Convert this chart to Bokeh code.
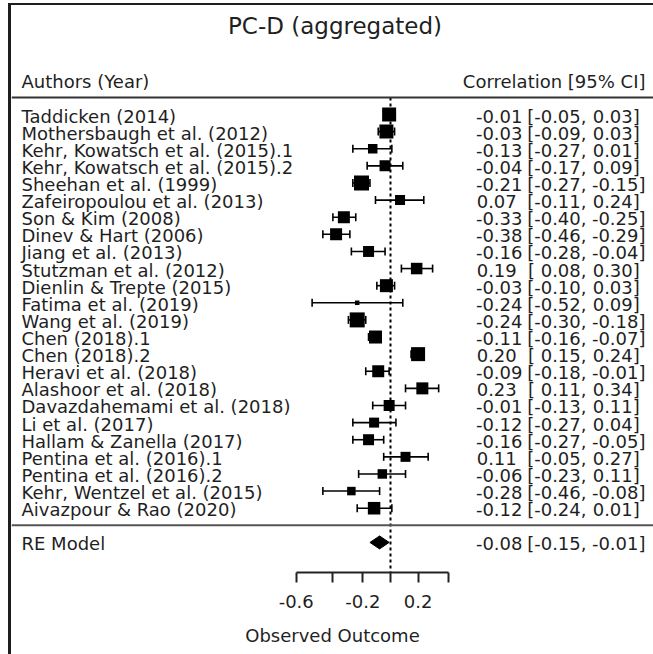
import numpy as np
from bokeh.plotting import figure
from bokeh.models import (Range1d, LinearAxis, FixedTicker, CustomJSTickFormatter,
                          Whisker, TeeHead, ColumnDataSource, Span)
from bokeh.core.properties import value
from bokeh.embed import file_html
from bokeh.resources import INLINE

# ---------------- data ----------------
plot_title = "PC-D (aggregated)"
left_header = "Authors (Year)"
right_header = "Correlation [95% CI]"
studies = [
    "Taddicken (2014)", "Mothersbaugh et al. (2012)", "Kehr, Kowatsch et al. (2015).1",
    "Kehr, Kowatsch et al. (2015).2", "Sheehan et al. (1999)", "Zafeiropoulou et al. (2013)",
    "Son & Kim (2008)", "Dinev & Hart (2006)", "Jiang et al. (2013)", "Stutzman et al. (2012)",
    "Dienlin & Trepte (2015)", "Fatima et al. (2019)", "Wang et al. (2019)", "Chen (2018).1",
    "Chen (2018).2", "Heravi et al. (2018)", "Alashoor et al. (2018)",
    "Davazdahemami et al. (2018)", "Li et al. (2017)", "Hallam & Zanella (2017)",
    "Pentina et al. (2016).1", "Pentina et al. (2016).2", "Kehr, Wentzel et al. (2015)",
    "Aivazpour & Rao (2020)",
]
estimates = [-0.01, -0.03, -0.13, -0.04, -0.21, 0.07, -0.33, -0.38, -0.16, 0.19, -0.03, -0.24,
             -0.24, -0.11, 0.20, -0.09, 0.23, -0.01, -0.12, -0.16, 0.11, -0.06, -0.28, -0.12]
ci_lower = [-0.05, -0.09, -0.27, -0.17, -0.27, -0.11, -0.40, -0.46, -0.28, 0.08, -0.10, -0.52,
            -0.30, -0.16, 0.15, -0.18, 0.11, -0.13, -0.27, -0.27, -0.05, -0.23, -0.46, -0.24]
ci_upper = [0.03, 0.03, 0.01, 0.09, -0.15, 0.24, -0.25, -0.29, -0.04, 0.30, 0.03, 0.09,
            -0.18, -0.07, 0.24, -0.01, 0.34, 0.11, 0.04, -0.05, 0.27, 0.11, -0.08, 0.01]
weights = [4.4, 4.4, 2.6, 3.2, 4.8, 2.8, 3.6, 3.6, 3.2, 3.4, 4.0, 0.6,
           4.8, 4.0, 4.4, 3.6, 3.6, 3.2, 2.8, 3.2, 2.8, 2.6, 2.2, 3.8]
re_label = "RE Model"
re_estimate, re_lower, re_upper = -0.08, -0.15, -0.01
tick_values = [-0.6, -0.4, -0.2, 0.0, 0.2, 0.4]
tick_labels_shown = ["-0.6", "-0.2", "0.2"]
x_label = "Observed Outcome"

# ---------------- layout ----------------
FONT = "DejaVu Sans"
FS = "18px"
TXT = "#1f1f1f"
PAGE_W, PAGE_H = 653, 654
MARGIN_L, MARGIN_T = 11, 5
AXIS_PANEL = 82
ZERO_PX, PX_PER_Z = 390.0, 136.0
ROW_TOP_PX, ROW_PX = 114.0, 17.117
EST_RIGHT, LO_RIGHT, HI_RIGHT = 522, 586, 645
K = len(studies)


def zx(px):
    return (px - ZERO_PX) / PX_PER_Z


def ry(py):
    return K + (ROW_TOP_PX - py) / ROW_PX


rows = np.arange(K, 0, -1).astype(float)
w = np.array(weights)
sizes = 3.0 + 2.5 * w
text_rows = rows - 1.5 / ROW_PX

src = ColumnDataSource(dict(
    row=rows,
    trow=text_rows,
    est=np.arctanh(estimates),
    lo=np.arctanh(ci_lower),
    hi=np.arctanh(ci_upper),
    size=sizes,
    name=studies,
    est_txt=[f"{v:5.2f}" for v in estimates],
    lo_txt=[f"[{v:5.2f}," for v in ci_lower],
    hi_txt=[f"{v:5.2f}]" for v in ci_upper],
))

p = figure(width=PAGE_W - MARGIN_L, height=PAGE_H - MARGIN_T,
           x_range=Range1d(zx(MARGIN_L), zx(PAGE_W)),
           y_range=Range1d(ry(PAGE_H - AXIS_PANEL), ry(MARGIN_T)),
           x_axis_type=None, y_axis_type=None, toolbar_location=None,
           output_backend="svg", min_border_left=0, min_border_right=0,
           min_border_top=0, min_border_bottom=AXIS_PANEL,
           margin=(MARGIN_T, 0, 0, MARGIN_L))
p.outline_line_color = None
p.background_fill_color = "white"
p.border_fill_color = "white"
p.styles = {"box-shadow": "-3px 0 0 0 #1e1e1e, 0 -2px 0 0 #1e1e1e, -3px -2px 0 0 #1e1e1e"}

# separator lines
p.add_layout(Span(location=K + 1, dimension="width", line_color="#333333", line_width=2))
p.add_layout(Span(location=0, dimension="width", line_color="#555555", line_width=2))

# reference line at 0
p.segment(x0=[0.0], y0=[K + 1], x1=[0.0], y1=[p.y_range.start],
          line_color="black", line_width=2, line_dash="3 3")

# confidence intervals
whisk = Whisker(source=src, base="row", lower="lo", upper="hi", dimension="width",
                line_color="black", line_width=1.6,
                upper_head=TeeHead(size=8, line_color="black", line_width=1.6),
                lower_head=TeeHead(size=8, line_color="black", line_width=1.6))
p.add_layout(whisk)

# study squares
p.scatter("est", "row", size="size", marker="square", fill_color="black",
          line_color=None, source=src)

# RE model diamond
half_h = 6.5 / ROW_PX
re_y = -1.0
zlo, zest, zhi = np.arctanh([re_lower, re_estimate, re_upper])
p.patch(x=[zlo, zest, zhi, zest], y=[re_y, re_y + half_h, re_y, re_y - half_h],
        fill_color="black", line_color="black", line_width=1)

# texts
common = dict(text_font=value(FONT), text_font_size=FS, text_color=TXT,
              text_baseline="middle")
p.text(x=zx(21), y="trow", text="name", text_align="left", source=src, **common)
p.text(x=zx(EST_RIGHT), y="trow", text="est_txt", text_align="right", source=src, **common)
p.text(x=zx(LO_RIGHT), y="trow", text="lo_txt", text_align="right", source=src, **common)
p.text(x=zx(HI_RIGHT), y="trow", text="hi_txt", text_align="right", source=src, **common)

re_ty = re_y - 1.5 / ROW_PX
p.text(x=[zx(21)], y=[re_ty], text=[re_label], text_align="left", **common)
p.text(x=[zx(EST_RIGHT)], y=[re_ty], text=[f"{re_estimate:5.2f}"], text_align="right", **common)
p.text(x=[zx(LO_RIGHT)], y=[re_ty], text=[f"[{re_lower:5.2f},"], text_align="right", **common)
p.text(x=[zx(HI_RIGHT)], y=[re_ty], text=[f"{re_upper:5.2f}]"], text_align="right", **common)

p.text(x=[zx(21)], y=[ry(81)], text=[left_header], text_align="left", **common)
p.text(x=[zx(HI_RIGHT)], y=[ry(81)], text=[right_header], text_align="right", **common)

p.text(x=[zx(334.5)], y=[ry(25)], text=[plot_title], text_align="center",
       text_baseline="middle", text_font=value(FONT), text_font_size="23px", text_color=TXT)

# x axis (Fisher z scale, labelled in r)
ax = LinearAxis(
    ticker=FixedTicker(ticks=[float(v) for v in np.arctanh(tick_values)], minor_ticks=[]),
    formatter=CustomJSTickFormatter(args=dict(show=tick_labels_shown), code="""
        const s = Math.tanh(tick).toFixed(1);
        return show.includes(s) ? s : '';
    """),
    bounds=(float(np.arctanh(tick_values[0])), float(np.arctanh(tick_values[-1]))),
    axis_label=x_label,
)
ax.axis_line_width = 2
ax.axis_line_color = "#222222"
ax.major_tick_line_width = 2
ax.major_tick_line_color = "#222222"
ax.major_tick_out = 10
ax.major_tick_in = 0
ax.minor_tick_out = 0
ax.minor_tick_in = 0
ax.major_label_standoff = 12
ax.major_label_text_font = FONT
ax.major_label_text_font_size = FS
ax.major_label_text_color = TXT
ax.axis_label_text_font = FONT
ax.axis_label_text_font_size = FS
ax.axis_label_text_font_style = "normal"
ax.axis_label_text_color = TXT
ax.axis_label_standoff = 14
p.add_layout(ax, "below")

open("out.html", "w").write(file_html(p, INLINE))
